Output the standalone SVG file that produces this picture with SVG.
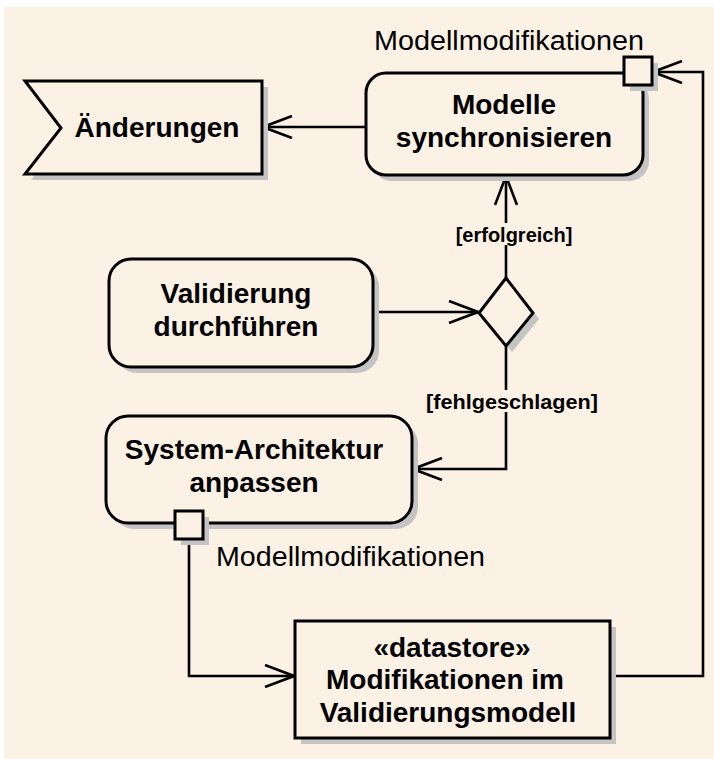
<svg xmlns="http://www.w3.org/2000/svg" width="714" height="759" viewBox="0 0 714 759">
  <defs>
    <style>
      .bg { fill: #FBF1E4; }
      .shape { fill: #FBF1E4; stroke: #000; stroke-width: 3; }
      .shadow { fill: #C4C4C4; stroke: none; }
      .edge { fill: none; stroke: #000; stroke-width: 2.6; }
      .title { font-family: "Liberation Sans", Arial, sans-serif; font-weight: bold; font-size: 28px; fill: #000; text-anchor: middle; }
      .guard { font-family: "Liberation Sans", Arial, sans-serif; font-weight: bold; font-size: 20px; fill: #000; text-anchor: middle; }
      .pin { font-family: "Liberation Sans", Arial, sans-serif; font-size: 27px; fill: #000; }
      .lblbg { fill: #FBF1E4; }
    </style>
    <marker id="open" viewBox="0 0 32 24" refX="30" refY="12" markerWidth="32" markerHeight="24" markerUnits="userSpaceOnUse" orient="auto">
      <path d="M1,1 L30,12 L1,23" fill="none" stroke="#000" stroke-width="2.6"/>
    </marker>
  </defs>

  <rect class="bg" x="4" y="7" width="710" height="752"/>

  <!-- connectors -->
  <g id="connectors">
    <path class="edge" d="M366,127 L263,127" marker-end="url(#open)"/>
    <path class="edge" d="M373,312 L478,312" marker-end="url(#open)"/>
    <path class="edge" d="M506,278 L506,176" marker-end="url(#open)"/>
    <path class="edge" d="M506,346 L506,469 L413,469" marker-end="url(#open)"/>
    <path class="edge" d="M189,539 L189,676 L294,676" marker-end="url(#open)"/>
    <path class="edge" d="M610,676 L703,676 L703,72 L653,72" marker-end="url(#open)"/>
    <rect class="lblbg" x="452" y="223" width="126" height="22"/>
    <text class="guard" x="514" y="242">[erfolgreich]</text>
    <rect class="lblbg" x="424" y="390" width="176" height="22"/>
    <text class="guard" x="512" y="409" textLength="172" lengthAdjust="spacingAndGlyphs">[fehlgeschlagen]</text>
  </g>

  <!-- send signal: Änderungen -->
  <g id="aenderungen">
    <polygon class="shadow" points="31,87 268,87 268,180 31,180 67,134"/>
    <polygon class="shape" points="25,81 262,81 262,174 25,174 61,128"/>
    <text class="title" x="157" y="137">Änderungen</text>
  </g>

  <!-- action: Modelle synchronisieren -->
  <g id="modelle-synchronisieren">
    <rect class="shadow" x="372" y="79" width="277" height="102" rx="20"/>
    <rect class="shape" x="366" y="73" width="277" height="102" rx="20"/>
    <text class="title" x="504" y="114">Modelle</text>
    <text class="title" x="504" y="147">synchronisieren</text>
    <rect class="shadow" x="630" y="63" width="28" height="28"/>
    <rect class="shape" x="624" y="57" width="28" height="28"/>
    <text class="pin" x="374" y="50" textLength="270" lengthAdjust="spacingAndGlyphs">Modellmodifikationen</text>
  </g>

  <!-- action: Validierung durchführen -->
  <g id="validierung-durchfuehren">
    <rect class="shadow" x="115" y="265" width="264" height="108" rx="22"/>
    <rect class="shape" x="109" y="259" width="264" height="108" rx="22"/>
    <text class="title" x="236" y="303">Validierung</text>
    <text class="title" x="236" y="336">durchführen</text>
  </g>

  <!-- decision -->
  <g id="entscheidung">
    <polygon class="shadow" points="512,284 539,319 512,352 485,319"/>
    <polygon class="shape" points="506,278 533,313 506,346 479,313"/>
  </g>

  <!-- action: System-Architektur anpassen -->
  <g id="system-architektur-anpassen">
    <rect class="shadow" x="112" y="422" width="306" height="107" rx="22"/>
    <rect class="shape" x="106" y="416" width="306" height="107" rx="22"/>
    <text class="title" x="254" y="459">System-Architektur</text>
    <text class="title" x="254" y="492">anpassen</text>
    <rect class="shadow" x="181" y="517" width="28" height="28"/>
    <rect class="shape" x="175" y="511" width="28" height="28"/>
    <text class="pin" x="216" y="566" textLength="269" lengthAdjust="spacingAndGlyphs">Modellmodifikationen</text>
  </g>

  <!-- datastore -->
  <g id="datastore">
    <rect class="shadow" x="301" y="627" width="315" height="117"/>
    <rect class="shape" x="295" y="621" width="315" height="117"/>
    <text class="title" x="452" y="657">«datastore»</text>
    <text class="title" x="445" y="689">Modifikationen im</text>
    <text class="title" x="448" y="722">Validierungsmodell</text>
  </g>
</svg>
